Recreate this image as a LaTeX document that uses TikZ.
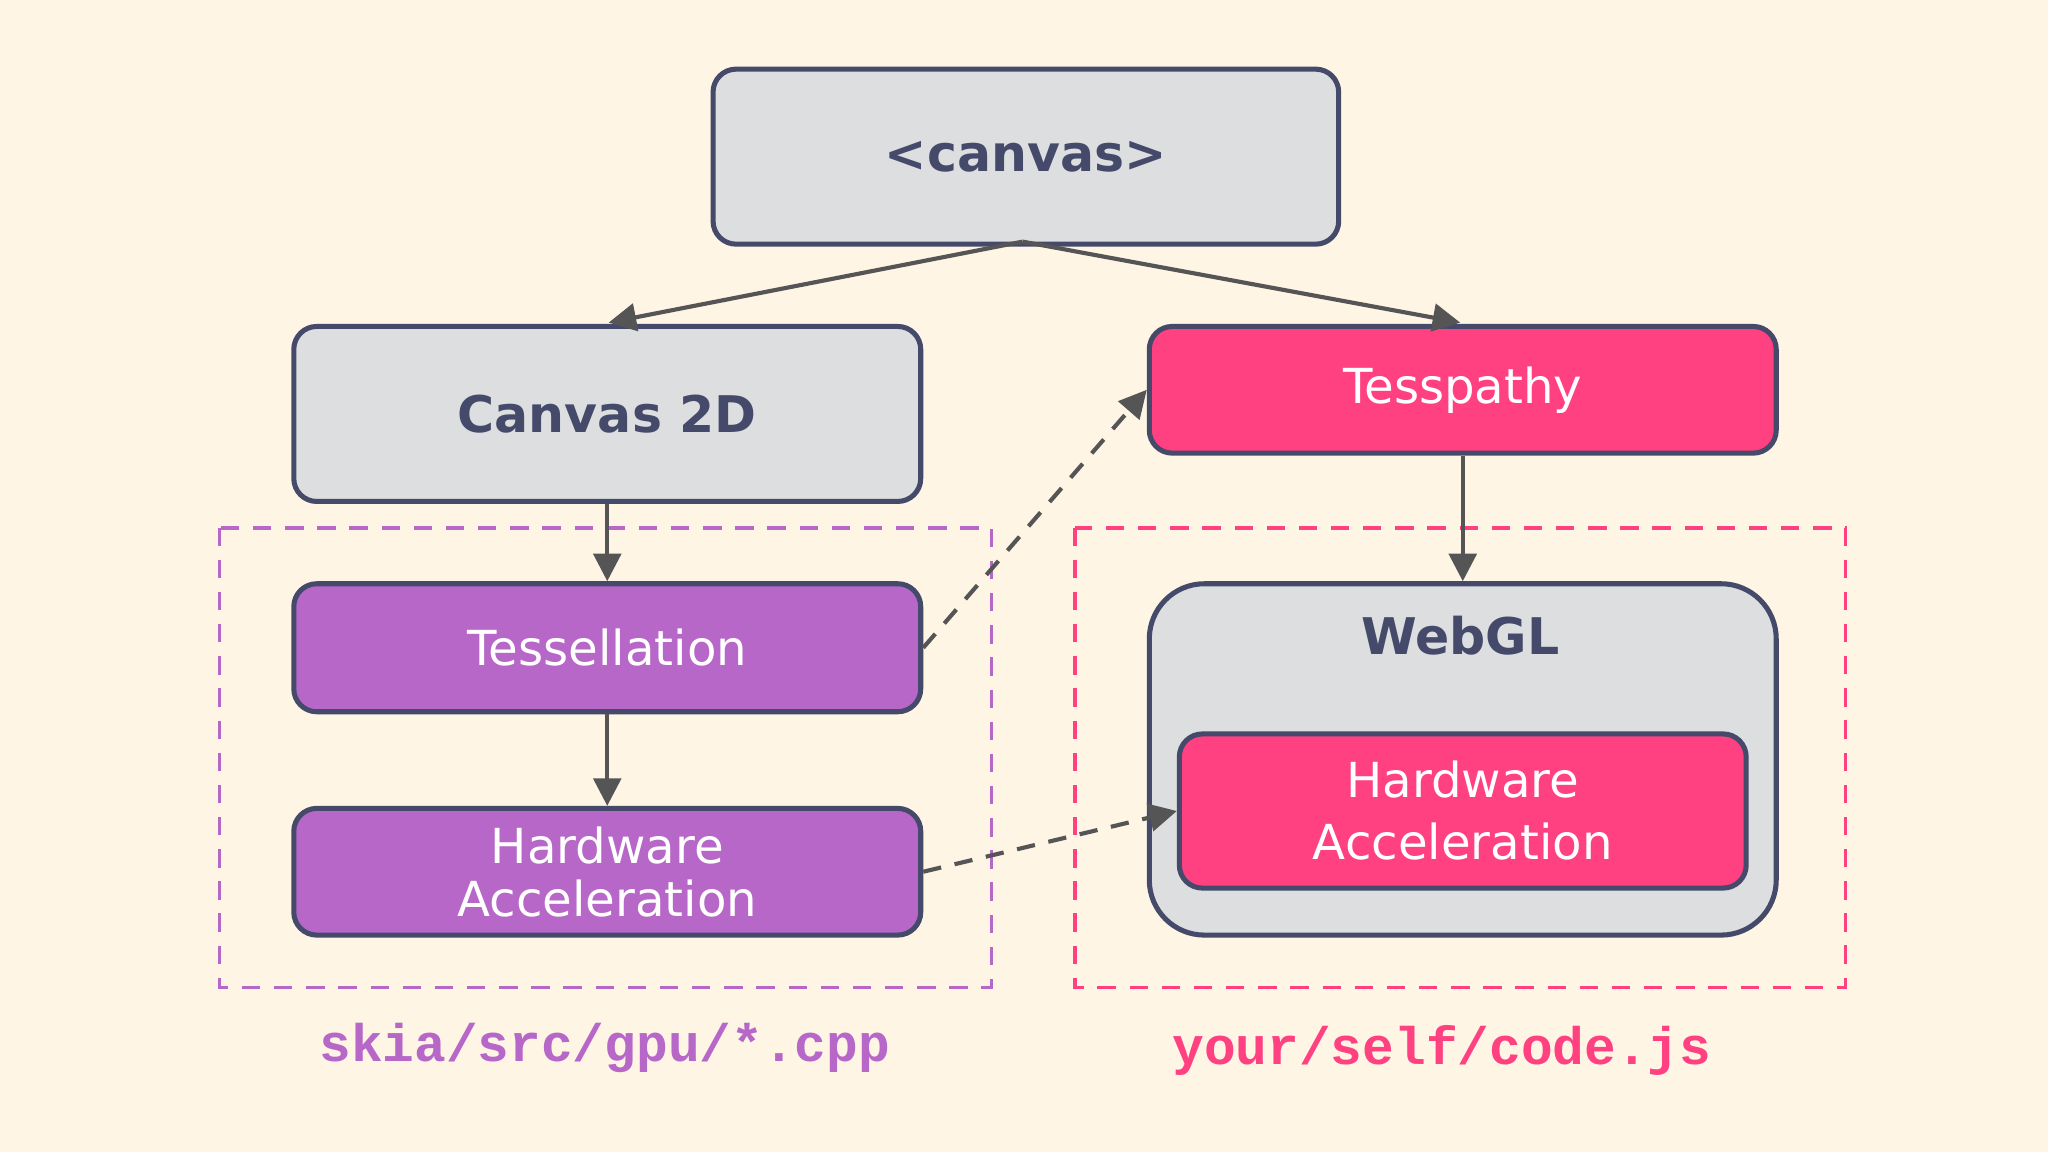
\documentclass[tikz,border=0pt]{standalone}
\usepackage{fontspec}
\setmainfont{DejaVu Sans}
\newfontfamily\monob{Liberation Mono}
\usetikzlibrary{arrows.meta}
\definecolor{bg}{HTML}{FEF5E4}
\definecolor{gbox}{HTML}{DCDEE0}
\definecolor{navy}{HTML}{454A6B}
\definecolor{purp}{HTML}{B767C7}
\definecolor{pink}{HTML}{FF4081}
\definecolor{arr}{HTML}{555555}
\begin{document}
\begin{tikzpicture}[x=0.01cm,y=-0.01cm,
 box/.style={draw=navy,line width=1.1pt,rounded corners=5pt,anchor=north west,inner sep=0pt},
 gray/.style={box,fill=gbox,text=navy,font=\fontsize{11}{14}\selectfont\bfseries},
 pur/.style={box,fill=purp,text=white,font=\fontsize{10.5}{13.5}\selectfont,align=center},
 pk/.style={box,fill=pink,text=white,font=\fontsize{10.5}{13.5}\selectfont,align=center},
 ar/.style={draw=arr,line width=0.9pt,-{Triangle[length=6pt,width=6pt]}},
 dar/.style={ar,dash pattern=on 4pt off 3pt},
 grp/.style={line width=0.8pt,dash pattern=on 4pt off 3pt}]
\fill[bg] (0,0) rectangle (1568,882);
\useasboundingbox (0,0) rectangle (1568,882);
\draw[grp,draw=purp] (168,404) rectangle (759,756);
\draw[grp,draw=pink] (823,404) rectangle (1413,756);
\node[gray,minimum width=479*0.01cm,minimum height=134*0.01cm] (cv) at (544,51) {<canvas>};
\node[gray,minimum width=480*0.01cm,minimum height=134*0.01cm] (c2) at (223,248) {Canvas 2D};
\node[pk,minimum width=480*0.01cm,minimum height=97*0.01cm] (ts) at (878,248) {Tesspathy};
\node[pur,minimum width=480*0.01cm,minimum height=98*0.01cm] (te) at (223,445) {Tessellation};
\node[pur,minimum width=480*0.01cm,minimum height=97*0.01cm] (hl) at (223,617) {Hardware\\[-2pt]Acceleration};
\node[box,fill=gbox,rounded corners=12pt,minimum width=480*0.01cm,minimum height=269*0.01cm] (wg) at (878,445) {};
\node[text=navy,font=\fontsize{11}{14}\selectfont\bfseries] (wgl) at (1118,487) {WebGL};
\node[pk,minimum width=434*0.01cm,minimum height=118*0.01cm] (hr) at (901,560) {Hardware\\Acceleration};
\node[text=purp,font=\fontsize{11.5}{14}\selectfont\monob\bfseries] (l1) at (463,802) {skia/src/gpu/*.cpp};
\node[text=pink,font=\fontsize{11.5}{14}\selectfont\monob\bfseries] (l2) at (1104,804) {your/self/code.js};
\coordinate (cb) at (783,185);
\draw[ar] (cb) -- (466,247);
\draw[ar] (cb) -- (1118,247);
\draw[ar] (c2.south) -- (te.north);
\draw[ar] (te.south) -- (hl.north);
\draw[ar] (ts.south) -- (wg.north);
\draw[dar] (te.east) -- (ts.west);
\draw[dar] (hl.east) -- (hr.west);
\end{tikzpicture}
\end{document}
